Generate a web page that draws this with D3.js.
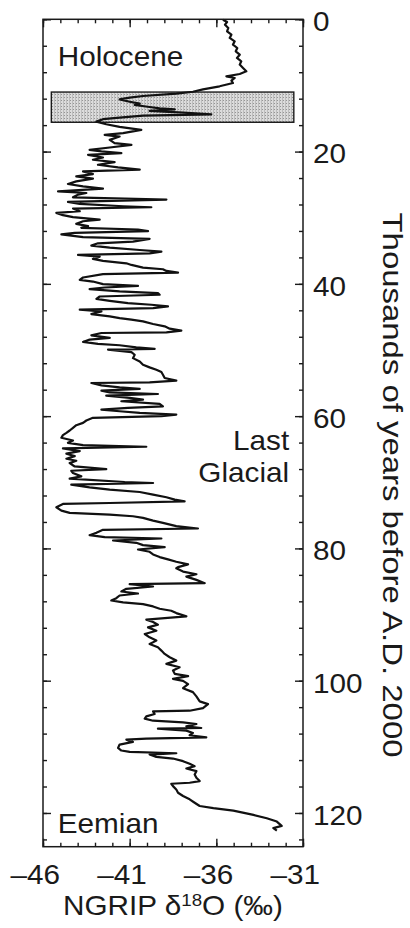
<!DOCTYPE html>
<html>
<head>
<meta charset="utf-8">
<script src="https://cdn.jsdelivr.net/npm/d3@7"></script>
<style>
  html, body { margin: 0; padding: 0; background: #fff; }
  svg { display: block; }
</style>
</head>
<body>
<svg id="chart" width="410" height="928"></svg>
<script>
// NGRIP δ18O record, [age in ka before A.D. 2000, δ18O ‰]
const recordHolocene = [
  [0.06,-35.62],[0.41,-35.38],[0.81,-35.5],[1.31,-35.31],[1.81,-35.38],[2.32,-35.13],
  [2.82,-35.23],[3.33,-34.94],[3.83,-35.04],[4.34,-34.79],[4.84,-34.88],[5.35,-34.65],
  [5.85,-34.81],[6.35,-34.56],[6.85,-34.65],[7.36,-34.46],[7.87,-34.27],[8.27,-34.65],
  [8.62,-35.42],[8.87,-34.94],[9.28,-35.13],[9.63,-35.04],[10.13,-35.81],[10.6,-36.77],
  [10.95,-37.35],[11.25,-38.31]
];
const recordDeglacial = [
  [11.6,-40.23],[11.85,-41.0],[12.1,-41.58],[12.46,-41.0],[12.76,-40.42],[12.96,-40.71],
  [13.26,-39.85],[13.46,-39.27],[13.61,-38.4],[13.86,-39.85],[14.1,-37.92],[14.36,-36.29],
  [14.56,-40.23],[14.86,-41.58],[15.1,-42.54],[15.47,-42.92],[15.87,-42.35],[16.27,-41.58]
];
const recordGlacialEarly = [
  [16.72,-40.33],[17.22,-41.38],[17.47,-42.44],[17.73,-41.58],[18.23,-42.15],[18.73,-41.87],
  [18.98,-40.9],[19.38,-42.15],[19.73,-43.31],[19.98,-42.63],[20.24,-41.48],[20.49,-43.4],
  [20.89,-42.54],[21.24,-43.12],[21.59,-41.87],[21.99,-42.83],[22.39,-41.67],[22.74,-40.42],
  [23.0,-43.69],[23.4,-43.12],[23.75,-44.08],[24.1,-43.12],[24.5,-44.08],[24.9,-44.56],
  [25.26,-43.69],[25.61,-42.54],[26.01,-45.13],[26.26,-43.5],[26.51,-43.98],[26.91,-44.27],
  [27.26,-38.88],[27.61,-44.56],[27.92,-43.88],[28.27,-41.38],[28.42,-39.75],[28.62,-44.27],
  [29.02,-43.88],[29.27,-45.23],[29.62,-44.85],[29.92,-44.27],[30.28,-42.73],[30.53,-43.69],
  [30.93,-44.08],[31.28,-43.4],[31.53,-43.79],[31.78,-40.52],[32.03,-39.94],[32.28,-44.17],
  [32.53,-44.94],[32.94,-43.69],[33.19,-39.85]
];
const recordGlacialMid = [
  [33.62,-40.81],[33.87,-42.83],[34.22,-43.21],[34.53,-42.15],[34.88,-40.42],[35.13,-39.17],
  [35.38,-39.85],[35.63,-43.98],[35.88,-42.73],[36.23,-43.12],[36.53,-42.54],[36.89,-41.19],
  [37.14,-40.9],[37.54,-40.23],[37.79,-39.08],[38.04,-38.88],[38.29,-38.21],[38.54,-42.54],
  [39.04,-43.69],[39.4,-43.88],[39.65,-43.12],[40.05,-42.54],[40.3,-40.52],[40.55,-42.44],
  [40.8,-43.31],[41.15,-41.58],[41.4,-39.37],[41.65,-39.27],[41.91,-42.73],[42.26,-42.92],
  [42.56,-42.15],[42.91,-41.1],[43.16,-39.75],[43.41,-38.79],[43.66,-39.65],[43.91,-43.88],
  [44.16,-42.63],[44.57,-43.21],[44.92,-42.15],[45.17,-41.58],[45.42,-40.9],[45.67,-40.23],
  [46.07,-39.65],[46.42,-38.98],[46.77,-38.69],[47.08,-38.02],[47.33,-38.88],[47.43,-42.63],
  [47.78,-43.21],[48.18,-42.15],[48.43,-43.31],[48.78,-43.69],[49.08,-42.83],[49.28,-41.58],
  [49.59,-40.62],[49.84,-39.56],[49.94,-42.25]
];
const recordGlacialLate = [
  [50.32,-40.9],[50.72,-40.71],[51.23,-40.81],[51.73,-40.42],[52.23,-40.23],[52.63,-39.85],
  [52.98,-39.46],[53.33,-39.17],[53.74,-39.08],[54.24,-38.98],[54.64,-38.31],[54.89,-39.85],
  [54.99,-43.21],[55.34,-42.63],[55.64,-41.58],[55.89,-40.42],[56.15,-42.63],[56.4,-42.15],
  [56.65,-39.37],[56.9,-42.35],[57.25,-41.0],[57.5,-40.23],[57.75,-41.48],[58.15,-39.27],
  [58.51,-39.08],[58.76,-41.1],[59.01,-42.63],[59.26,-41.58],[59.51,-40.42],[59.76,-38.31],
  [60.01,-39.17],[60.26,-43.12],[60.66,-43.5],[61.02,-43.69],[61.37,-44.08],[61.77,-44.27],
  [62.17,-44.46],[62.52,-44.65],[62.87,-44.85],[63.27,-44.94],[63.68,-44.27],[64.03,-44.56],
  [64.38,-43.69],[64.63,-40.04],[64.88,-44.85],[65.28,-43.88],[65.68,-44.65],[66.04,-44.17],
  [66.44,-44.65]
];
const recordGlacialStart = [
  [66.75,-44.08],[67.1,-44.46],[67.61,-44.17],[68.01,-42.35],[68.26,-44.37],[68.61,-44.27],
  [69.11,-43.79],[69.46,-44.46],[69.96,-41.29],[70.11,-39.65],[70.37,-44.37],[70.77,-43.31],
  [71.12,-42.15],[71.47,-40.42],[71.87,-39.65],[72.27,-38.88],[72.63,-38.4],[72.88,-37.83],
  [73.13,-42.15],[73.28,-44.85],[73.78,-45.23],[74.28,-44.94],[74.63,-44.46],[74.88,-42.15],
  [75.14,-40.81],[75.39,-40.23],[75.79,-39.65],[76.14,-39.08],[76.64,-38.31],[76.99,-37.06],
  [77.19,-42.54],[77.65,-42.92],[78.0,-43.31],[78.3,-42.44],[78.5,-39.17],[78.8,-41.96],
  [79.15,-40.62],[79.5,-40.23],[79.8,-38.98],[80.16,-40.52],[80.51,-39.85],[80.91,-39.65],
  [81.31,-39.27],[81.66,-38.79],[82.01,-38.31],[82.41,-37.63],[82.82,-38.21]
];
const recordMIS5 = [
  [83.0,-38.31],[83.5,-37.92],[83.9,-37.15],[84.26,-37.73],[84.76,-37.15],[85.26,-36.67],
  [85.41,-41.0],[85.76,-39.65],[86.11,-41.19],[86.51,-41.48],[86.82,-40.52],[87.12,-41.58],
  [87.52,-41.77],[87.87,-42.06],[88.17,-41.38],[88.42,-40.23],[88.77,-39.65],[89.12,-39.27],
  [89.43,-38.6],[89.78,-38.31],[90.28,-37.73],[90.53,-38.98],[90.78,-40.04],[91.13,-39.65],
  [91.53,-39.37],[91.94,-39.94],[92.44,-39.46],[92.94,-40.13],[93.44,-39.85],[93.94,-39.46],
  [94.45,-39.85],[94.95,-39.37],[95.45,-39.17],[95.95,-38.98],[96.45,-38.69],[96.96,-38.31],
  [97.46,-38.88],[97.96,-38.12],[98.46,-38.5],[98.96,-38.4],[99.32,-37.63],[99.72,-38.5],
  [100.02,-37.92],[100.52,-37.63],[101.13,-37.92],[101.73,-37.35],[102.38,-37.15],[103.13,-36.96],
  [103.54,-36.48],[104.14,-36.77],[104.54,-37.54],[104.64,-39.65],[105.04,-39.56],[105.39,-40.04],
  [105.74,-40.13],[106.05,-39.65],[106.3,-37.92],[106.55,-37.15],[106.9,-37.73],[107.15,-36.87],
  [107.25,-39.37],[107.55,-37.73],[107.9,-37.35],[108.25,-37.54],[108.56,-36.58],[108.76,-40.04],
  [108.91,-41.19],[109.26,-40.81],[109.66,-41.58],[110.16,-41.67],[110.56,-41.48],[110.76,-41.0],
  [110.97,-38.31],[111.17,-39.85],[111.52,-39.46],[111.77,-38.5],[112.17,-37.92],[112.57,-37.54],
  [112.92,-37.25],[113.27,-37.73],[113.68,-37.15],[114.18,-37.25],[114.68,-37.15],[115.18,-36.96],
  [115.43,-37.54],[115.58,-38.6],[115.94,-38.5],[116.44,-38.31],[116.94,-38.21],[117.44,-37.92],
  [117.94,-37.54],[118.45,-37.25],[118.95,-36.96]
];
const recordEemian = [
  [119.28,-36.17],[119.64,-35.02],[120.29,-33.86],[120.79,-33.09],[121.3,-32.51],
  [121.96,-32.23],[122.3,-32.71],[122.66,-32.51]
];

// shaded Younger Dryas / Bølling–Allerød band: [age top, age bottom], [δ18O left, δ18O right]
const bandAges = [11.0, 15.57];
const bandIso = [-45.52, -31.53];

// axis ticks
const isoDomain = [-46, -31];
const ageDomain = [0, 125.1];
const isoMajor = [-46, -41, -36, -31];
const isoMinor = d3.range(-46, -30, 1);
const ageMajor = [0, 20, 40, 60, 80, 100, 120];
const ageMinor = d3.range(0, 125, 4);

// period names
const periodLabels = [
  { text: "Holocene", age: 7.03, iso: -45.15, anchor: "start" },
  { text: "Last", age: 65.06, iso: -31.8, anchor: "end" },
  { text: "Glacial", age: 69.93, iso: -31.8, anchor: "end" },
  { text: "Eemian", age: 123.0, iso: -45.15, anchor: "start" }
];

const FONT = "'Liberation Sans', Arial, Helvetica, sans-serif";
const INK = "#1a1a1a";
const WIDEN = "scale(1.1,1)";

const svg = d3.select("#chart");
const frame = { left: 43, right: 303, top: 19.3, bottom: 846.7 };

const x = d3.scaleLinear().domain(isoDomain).range([frame.left, frame.right]);
const y = d3.scaleLinear().domain(ageDomain).range([frame.top, frame.bottom]);

svg.append("rect").attr("width", 410).attr("height", 928).attr("fill", "#fff");

// stipple fill for the band
const defs = svg.append("defs");
const pat = defs.append("pattern")
  .attr("id", "stipple").attr("width", 3).attr("height", 3)
  .attr("patternUnits", "userSpaceOnUse");
pat.append("rect").attr("width", 3).attr("height", 3).attr("fill", "#dcdcdc");
pat.append("rect").attr("width", 1).attr("height", 3).attr("fill", "#bdbdbd");
pat.append("rect").attr("x", 1).attr("y", 1).attr("width", 1).attr("height", 1).attr("fill", "#959595");

svg.append("rect")
  .attr("x", x(bandIso[0])).attr("y", y(bandAges[0]))
  .attr("width", x(bandIso[1]) - x(bandIso[0]))
  .attr("height", y(bandAges[1]) - y(bandAges[0]))
  .attr("fill", "url(#stipple)")
  .attr("stroke", INK).attr("stroke-width", 1.4);

// the isotope curve
const record = [].concat(recordHolocene, recordDeglacial, recordGlacialEarly, recordGlacialMid,
  recordGlacialLate, recordGlacialStart, recordMIS5, recordEemian);
const line = d3.line().x(d => x(d[1])).y(d => y(d[0]));
svg.append("path")
  .datum(record)
  .attr("d", line)
  .attr("fill", "none")
  .attr("stroke", "#111")
  .attr("stroke-width", 2.2)
  .attr("stroke-linejoin", "round");

// frame
svg.append("rect")
  .attr("x", frame.left).attr("y", frame.top)
  .attr("width", frame.right - frame.left).attr("height", frame.bottom - frame.top)
  .attr("fill", "none").attr("stroke", INK).attr("stroke-width", 1.5);

function tidy(g) {
  g.select(".domain").remove();
  g.attr("font-family", FONT).attr("font-size", 27);
  g.selectAll(".tick line").attr("stroke", INK).attr("stroke-width", 1.4);
  g.selectAll(".tick text").attr("fill", INK).attr("transform", WIDEN);
}

// inward ticks on all four sides
svg.append("g").attr("transform", `translate(${frame.right},0)`)
  .call(d3.axisRight(y).tickValues(ageMinor).tickSize(-4).tickFormat("")).call(tidy);
svg.append("g").attr("transform", `translate(${frame.right},0)`)
  .call(d3.axisRight(y).tickValues(ageMajor).tickSize(-8).tickPadding(9).tickFormat(d3.format("d")))
  .call(tidy)
  .call(g => g.selectAll(".tick text").attr("dy", "0.42em"));
svg.append("g").attr("transform", `translate(${frame.left},0)`)
  .call(d3.axisLeft(y).tickValues(ageMinor).tickSize(-4).tickFormat("")).call(tidy);
svg.append("g").attr("transform", `translate(${frame.left},0)`)
  .call(d3.axisLeft(y).tickValues(ageMajor).tickSize(-8).tickFormat("")).call(tidy);

svg.append("g").attr("transform", `translate(0,${frame.top})`)
  .call(d3.axisTop(x).tickValues(isoMinor).tickSize(-4).tickFormat("")).call(tidy);
svg.append("g").attr("transform", `translate(0,${frame.top})`)
  .call(d3.axisTop(x).tickValues(isoMajor).tickSize(-8).tickFormat("")).call(tidy);
svg.append("g").attr("transform", `translate(0,${frame.bottom})`)
  .call(d3.axisBottom(x).tickValues(isoMinor).tickSize(-4).tickFormat("")).call(tidy);
svg.append("g").attr("transform", `translate(0,${frame.bottom})`)
  .call(d3.axisBottom(x).tickValues(isoMajor).tickSize(-8).tickPadding(18)
    .tickFormat(d => "\u2013" + Math.abs(d)))
  .call(tidy)
  .call(g => g.selectAll(".tick text").attr("text-anchor", "end").attr("x", 15));

// period names
svg.append("g").selectAll("text")
  .data(periodLabels).join("text")
  .attr("transform", d => `translate(${x(d.iso)},${y(d.age)}) ${WIDEN}`)
  .attr("text-anchor", d => d.anchor)
  .attr("font-family", FONT).attr("font-size", 27).attr("fill", INK)
  .text(d => d.text);

// axis titles
const xTitle = svg.append("text")
  .attr("transform", `translate(${(frame.left + frame.right) / 2},915) ${WIDEN}`)
  .attr("text-anchor", "middle")
  .attr("font-family", FONT).attr("font-size", 27).attr("fill", INK);
xTitle.append("tspan").text("NGRIP \u03b4");
xTitle.append("tspan").attr("font-size", 17).attr("dy", -9).text("18");
xTitle.append("tspan").attr("dy", 9).text("O (\u2030)");

svg.append("text")
  .attr("transform", `translate(383,${(frame.top + frame.bottom) / 2 + 52}) rotate(90)`)
  .attr("text-anchor", "middle")
  .attr("textLength", 545).attr("lengthAdjust", "spacingAndGlyphs")
  .attr("font-family", FONT).attr("font-size", 28).attr("fill", INK)
  .text("Thousands of years before A.D. 2000");
</script>
</body>
</html>
